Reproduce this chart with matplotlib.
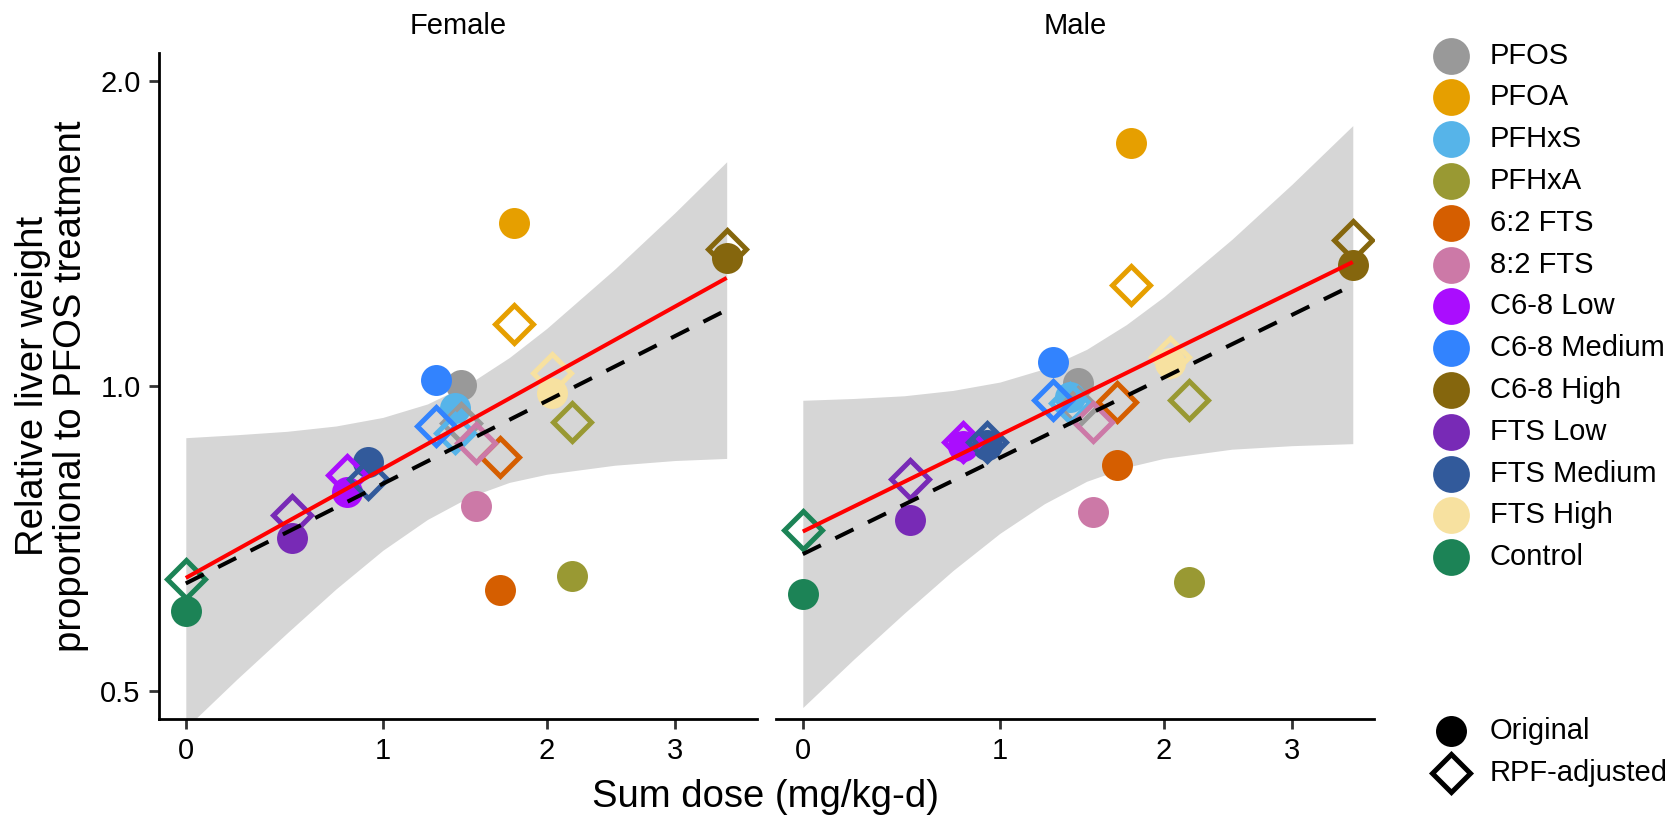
import numpy as np
import matplotlib
matplotlib.use("Agg")
import matplotlib.pyplot as plt
from matplotlib.ticker import FixedLocator, NullLocator

plt.rcParams['font.family'] = ['Liberation Sans', 'DejaVu Sans']

# treatment groups and their colours (Polychrome-style palette)
compounds = ['PFOS', 'PFOA', 'PFHxS', 'PFHxA', '6:2 FTS', '8:2 FTS',
             'C6-8 Low', 'C6-8 Medium', 'C6-8 High',
             'FTS Low', 'FTS Medium', 'FTS High', 'Control']
colors = ['#999999', '#E69F00', '#56B4E9', '#999933', '#D55E00', '#CC79A7',
          '#AA0DFE', '#3283FE', '#85660D',
          '#782AB6', '#325A9B', '#F7E1A0', '#1C8356']

# summed dose (mg/kg-d) and relative liver weight, per sex
female_dose = [1.45, 1.78, 1.41, 2.18, 1.69, 1.54, 0.81, 1.30, 3.48, 0.525, 0.92, 2.04, 0.0]
female_orig = [1.002, 1.449, 0.951, 0.649, 0.629, 0.761, 0.785, 1.014, 1.337, 0.707, 0.841, 0.984, 0.599]
female_rpf = [0.919, 1.151, 0.899, 0.921, 0.851, 0.878, 0.816, 0.913, 1.367, 0.746, 0.809, 1.030, 0.645]

male_dose = [1.45, 1.78, 1.40, 2.18, 1.69, 1.54, 0.80, 1.30, 3.57, 0.528, 0.93, 2.045, 0.0]
male_orig = [1.006, 1.739, 0.975, 0.640, 0.835, 0.751, 0.872, 1.057, 1.317, 0.737, 0.874, 1.054, 0.623]
male_rpf = [0.954, 1.258, 0.962, 0.969, 0.965, 0.922, 0.880, 0.969, 1.393, 0.809, 0.880, 1.069, 0.720]

# fitted lines (end points): solid = RPF-adjusted fit, dashed = predicted
female_fit_x = [0.0, 3.48]
female_fit_red = [0.646, 1.279]
female_fit_dash = [0.638, 1.189]
male_fit_x = [0.0, 3.57]
male_fit_red = [0.718, 1.326]
male_fit_dash = [0.682, 1.258]

# confidence band around the predicted line
female_band_x = [0, 0.25, 0.5, 0.75, 1.0, 1.25, 1.5, 1.75, 2.0, 2.5, 3.0, 3.48]
female_band_hi = [0.889, 0.895, 0.902, 0.913, 0.931, 0.960, 1.006, 1.067, 1.140, 1.305, 1.484, 1.666]
female_band_lo = [0.459, 0.513, 0.570, 0.630, 0.688, 0.738, 0.777, 0.803, 0.818, 0.835, 0.844, 0.848]
male_band_x = [0, 0.25, 0.5, 0.75, 1.0, 1.25, 1.5, 1.75, 2.0, 2.5, 3.0, 3.57]
male_band_hi = [0.968, 0.972, 0.978, 0.990, 1.009, 1.040, 1.087, 1.150, 1.225, 1.396, 1.583, 1.809]
male_band_lo = [0.481, 0.537, 0.596, 0.657, 0.715, 0.765, 0.805, 0.831, 0.848, 0.866, 0.873, 0.877]

x_ticks = [0, 1, 2, 3]
y_ticks = [0.5, 1.0, 2.0]
y_tick_labels = ['0.5', '1.0', '2.0']

W, H = 1677, 815
fig = plt.figure(figsize=(W / 100, H / 100), dpi=100)

TICK_FS = 21
TITLE_FS = 27.5
CIRCLE_MS = 22.3
DIAMOND_MS = 19.4
DIAMOND_MEW = 3.6


def draw_panel(ax, title, dose, orig, rpf, fit_x, fit_red, fit_dash,
               band_x, band_lo, band_hi, show_y):
    ax.set_xscale('asinh', linear_width=2)
    ax.set_yscale('log')

    ax.fill_between(band_x, band_lo, band_hi, color='#999999', alpha=0.4,
                    linewidth=0, zorder=1)

    for i in range(len(compounds)):
        ax.plot(dose[i], orig[i], 'o', ms=CIRCLE_MS, color=colors[i],
                markeredgewidth=0, zorder=2)
    for i in range(len(compounds)):
        ax.plot(dose[i], rpf[i], 'D', ms=DIAMOND_MS, markerfacecolor='none',
                markeredgecolor=colors[i], markeredgewidth=DIAMOND_MEW, zorder=3)

    ax.plot(fit_x, fit_dash, color='black', lw=2.9, dashes=(5, 4), zorder=4)
    ax.plot(fit_x, fit_red, color='red', lw=2.9, zorder=5,
            solid_capstyle='butt')

    ax.set_xlim(-0.131, 3.787)
    ax.set_ylim(0.4686, 2.134)

    ax.xaxis.set_major_locator(FixedLocator(x_ticks))
    ax.xaxis.set_minor_locator(NullLocator())
    ax.set_xticklabels([str(t) for t in x_ticks])
    ax.yaxis.set_major_locator(FixedLocator(y_ticks))
    ax.yaxis.set_minor_locator(NullLocator())
    ax.set_yticklabels(y_tick_labels)

    for side in ['top', 'right']:
        ax.spines[side].set_visible(False)
    ax.spines['bottom'].set_linewidth(2.0)
    if show_y:
        ax.spines['left'].set_linewidth(2.0)
    else:
        ax.spines['left'].set_visible(False)
        ax.tick_params(axis='y', left=False, labelleft=False)

    ax.tick_params(axis='both', length=7.2, width=2.0, color='#333333',
                   labelsize=TICK_FS, labelcolor='black', pad=6)
    ax.set_title(title, fontsize=TICK_FS, pad=14)


ax_f = fig.add_axes([159 / W, 1 - 719 / H, 598 / W, 666 / H])
ax_m = fig.add_axes([776 / W, 1 - 719 / H, 598 / W, 666 / H])

draw_panel(ax_f, 'Female', female_dose, female_orig, female_rpf,
           female_fit_x, female_fit_red, female_fit_dash,
           female_band_x, female_band_lo, female_band_hi, True)
draw_panel(ax_m, 'Male', male_dose, male_orig, male_rpf,
           male_fit_x, male_fit_red, male_fit_dash,
           male_band_x, male_band_lo, male_band_hi, False)

fig.text(766 / W, 1 - 797 / H, 'Sum dose (mg/kg-d)', fontsize=TITLE_FS,
         ha='center', va='center')
fig.text(52 / W, 1 - 386 / H, 'Relative liver weight\nproportional to PFOS treatment',
         fontsize=TITLE_FS, rotation=90, ha='center', va='center',
         multialignment='center', linespacing=1.05)

# legends drawn on an overlay in pixel coordinates
lax = fig.add_axes([0, 0, 1, 1])
lax.set_xlim(0, W)
lax.set_ylim(H, 0)
lax.axis('off')

key_x, text_x = 1451, 1490
row0, row_h = 55.6, 41.8
for i, name in enumerate(compounds):
    y = row0 + i * row_h
    lax.plot(key_x, y, 'o', ms=26.5, color=colors[i], markeredgewidth=0)
    lax.text(text_x, y, name, fontsize=TICK_FS, va='center', ha='left')

shape_rows = [731, 772.6]
lax.plot(key_x, shape_rows[0], 'o', ms=CIRCLE_MS, color='black', markeredgewidth=0)
lax.text(text_x, shape_rows[0], 'Original', fontsize=TICK_FS, va='center', ha='left')
lax.plot(key_x, shape_rows[1], 'D', ms=DIAMOND_MS, markerfacecolor='none',
         markeredgecolor='black', markeredgewidth=DIAMOND_MEW)
lax.text(text_x, shape_rows[1], 'RPF-adjusted', fontsize=TICK_FS, va='center', ha='left')

fig.savefig('out.png', dpi=100)
